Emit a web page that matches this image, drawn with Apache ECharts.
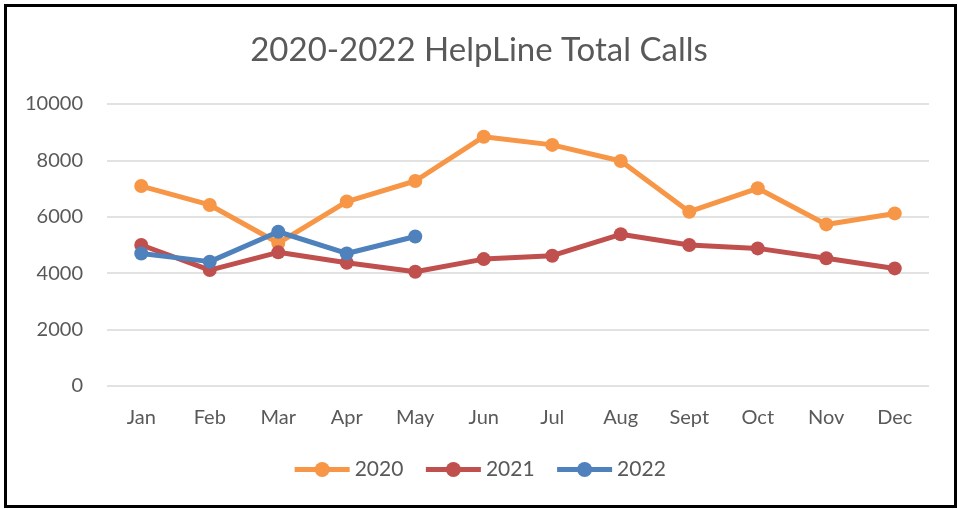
<!DOCTYPE html>
<html>
<head>
<meta charset="utf-8">
<script src="https://cdn.jsdelivr.net/npm/echarts@6/dist/echarts.min.js"></script>
<style>
html,body{margin:0;padding:0;background:#fff;}
#chart{width:958px;height:509px;}
</style>
</head>
<body>
<div id="chart"></div>
<script>
const months = ['Jan','Feb','Mar','Apr','May','Jun','Jul','Aug','Sept','Oct','Nov','Dec'];
const calls2020 = [7090, 6420, 5070, 6540, 7270, 8840, 8550, 7980, 6180, 7010, 5730, 6120];
const calls2021 = [5000, 4110, 4740, 4370, 4050, 4500, 4620, 5380, 5000, 4880, 4530, 4170];
const calls2022 = [4700, 4410, 5470, 4700, 5300];
const seriesNames = ['2020','2021','2022'];
const colors = ['#F79646','#C0504D','#4F81BD'];

const font = 'Lato, "Open Sans", sans-serif';
const chart = echarts.init(document.getElementById('chart'));
const mk = (name, data, color) => ({
  name, type: 'line', data,
  symbol: 'circle', symbolSize: 14,
  lineStyle: {width: 5, color},
  itemStyle: {color},
  emphasis: {disabled: true},
  animation: false
});
chart.setOption({
  animation: false,
  title: {
    text: '2020-2022 HelpLine Total Calls',
    left: 'center', top: 29,
    textStyle: {fontFamily: font, fontSize: 33, fontWeight: 'normal', color: '#595959'}
  },
  legend: {
    data: seriesNames,
    bottom: 24, left: 'center',
    itemWidth: 55, itemHeight: 19, itemGap: 20,
    lineStyle: {width: 5},
    textStyle: {fontFamily: font, fontSize: 21, color: '#595959'}
  },
  grid: {left: 107, right: 29, top: 104, bottom: 123},
  xAxis: {
    type: 'category', data: months, boundaryGap: true,
    axisLine: {show: false}, axisTick: {show: false},
    axisLabel: {fontFamily: font, fontSize: 20, color: '#595959', margin: 22}
  },
  yAxis: {
    type: 'value', min: 0, max: 10000, interval: 2000,
    axisLine: {show: false}, axisTick: {show: false},
    splitLine: {lineStyle: {color: '#D9D9D9', width: 1.5}},
    axisLabel: {fontFamily: font, fontSize: 20, color: '#595959', margin: 24, formatter: v => String(v)}
  },
  graphic: [{
    type: 'rect', silent: true, z: 100,
    shape: {x: 5.5, y: 5.5, width: 950, height: 501},
    style: {fill: 'none', stroke: '#000', lineWidth: 3}
  }],
  series: [
    mk(seriesNames[0], calls2020, colors[0]),
    mk(seriesNames[1], calls2021, colors[1]),
    mk(seriesNames[2], calls2022, colors[2])
  ]
});
</script>
</body>
</html>
